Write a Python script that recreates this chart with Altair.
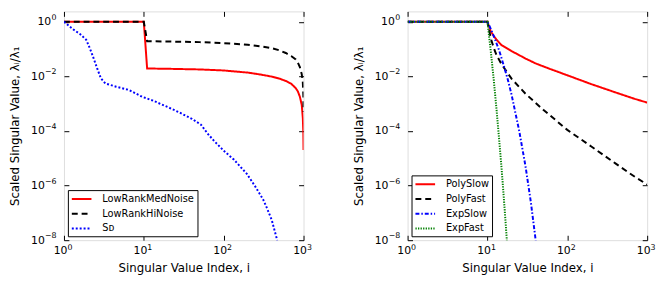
import altair as alt
import pandas as pd

# ---------------- data ----------------
# Left panel
lr_index = [1, 10, 11, 20, 50, 100, 200, 300, 400, 500, 600, 700, 800, 850, 900, 950, 980, 995, 1000]
med_noise = [1.0, 1.0, 0.0195, 0.019, 0.018, 0.0165, 0.0138, 0.0115, 0.0098, 0.0083, 0.0068,
             0.0054, 0.0037, 0.0028, 0.0018, 0.0009, 0.0003, 0.00008, 0.00002]
hi_noise = [1.0, 1.0, 0.195, 0.19, 0.18, 0.165, 0.145, 0.125, 0.108, 0.09, 0.072,
            0.056, 0.042, 0.032, 0.022, 0.012, 0.006, 0.002, 0.0005]
sd_index = [1, 1.3, 1.6, 1.9, 2.1, 2.3, 2.6, 2.9, 3.3, 4.5, 6.5, 9.5, 13, 20, 27, 40, 52,
            63, 75, 100, 134, 195, 250, 314, 345, 400, 460, 480]
sd_values = [1.0, 0.53, 0.35, 0.22, 0.11, 0.055, 0.02, 0.0085, 0.0055, 0.0042, 0.0032, 0.0018,
             0.0013, 0.00075, 0.0005, 0.00028, 0.00017, 0.00008, 0.000045, 0.000019, 0.000009,
             0.0000027, 0.0000009, 0.0000003, 0.00000016, 0.000000055, 0.000000012, 0.000000006]
left_names = ["LowRankMedNoise", "LowRankHiNoise", "Sᴅ"]

# Right panel
ps_index = [1, 10, 11, 12, 13, 15, 20, 30, 40, 60, 100, 200, 400, 700, 1000]
poly_slow = [1.0, 1.0, 0.45, 0.3, 0.22, 0.14, 0.085, 0.045, 0.03, 0.019, 0.011, 0.0052, 0.0026, 0.0015, 0.0011]
pf_index = [1, 10, 11, 12, 13, 15, 20, 30, 50, 100, 200, 400, 700, 1000]
poly_fast = [1.0, 1.0, 0.25, 0.11, 0.06, 0.028, 0.0083, 0.0023, 0.0006, 0.00011, 0.000027,
             0.0000065, 0.0000021, 0.0000011]
es_index = [1, 10, 11, 12, 14, 16, 18, 20, 25, 30, 35, 40, 42]
exp_slow = [1.0, 1.0, 0.55, 0.3, 0.09, 0.025, 0.0076, 0.0022, 0.0001, 0.000005, 0.00000024,
            0.000000011, 0.000000003]
ef_index = [1, 10, 11, 12, 13, 14, 15, 16, 17, 18]
exp_fast = [1.0, 1.0, 0.085, 0.0073, 0.0006, 0.00005, 0.0000045, 0.00000038, 0.000000033, 0.000000003]
right_names = ["PolySlow", "PolyFast", "ExpSlow", "ExpFast"]

# axis ticks and their labels (base 10, exponent as superscript)
x_ticks = [1, 10, 100, 1000]
x_exponents = ["0", "1", "2", "3"]
y_ticks = [1e-8, 1e-6, 1e-4, 1e-2, 1]
y_exponents = ["−8", "−6", "−4", "−2", "0"]


def frame(names, xs_list, ys_list):
    rows = []
    for n, xs, ys in zip(names, xs_list, ys_list):
        for a, b in zip(xs, ys):
            rows.append({"i": a, "v": b, "s": n})
    return pd.DataFrame(rows)


left_df = frame(left_names, [lr_index, lr_index, sd_index], [med_noise, hi_noise, sd_values])
right_df = frame(right_names, [ps_index, pf_index, es_index, ef_index],
                 [poly_slow, poly_fast, exp_slow, exp_fast])

FONT = "DejaVu Sans"
W, H = 244, 233
XDOM = [1, 1000]
YDOM = [1e-8, 2.4]


def exp_expr(ticks, exps):
    parts = []
    for t, e in zip(ticks, exps):
        parts.append(f"abs(log(datum.value) - log({t})) < 0.1 ? '{e}' : ")
    return "".join(parts) + "''"


COMMON = dict(offset=-5, tickSize=5, tickColor="black", tickWidth=1, domain=False, grid=False,
              labelFont=FONT, labelColor="black", labelFlush=False, labelOverlap=False,
              labelBound=False, minExtent=0)

# base "10" sits left of its exponent: wider gap for the two-glyph exponents
Y_BASE_PAD = {"condition": {"test": "datum.value > 0.1", "value": 13.5}, "value": 20}


def panel(df, names, colors, dashes, widths):
    xs = alt.Scale(type="log", domain=XDOM, nice=False)
    ys = alt.Scale(type="log", domain=YDOM, nice=False)
    legend = alt.Legend(
        title=None, orient="bottom-left", offset=4, symbolType="M-1,0H3", symbolSize=100,
        symbolStrokeWidth=2, labelFont=FONT, labelFontSize=10, labelColor="black",
        labelOffset=20, strokeColor="black", fillColor="white", padding=3,
        rowPadding=4, cornerRadius=0, labelLimit=300,
    )
    lines = alt.Chart(df).mark_line(clip=True).encode(
        x=alt.X("i:Q", scale=xs, axis=alt.Axis(
            orient="bottom", values=x_ticks, labelExpr="'10'", labelPadding=5, labelFontSize=11,
            labelAlign="center", labelOffset=-4,
            title="Singular Value Index, i", titleFont=FONT, titleFontSize=12,
            titleFontWeight="normal", titleColor="black", titlePadding=7, **COMMON)),
        y=alt.Y("v:Q", scale=ys, axis=alt.Axis(
            orient="left", values=y_ticks, labelExpr="'10'", labelPadding=Y_BASE_PAD,
            labelFontSize=11, labelAlign="right",
            title="Scaled Singular Value, λᵢ/λ₁", titleFont=FONT,
            titleFontSize=12, titleFontWeight="normal", titleColor="black", titlePadding=9,
            **COMMON)),
        color=alt.Color("s:N", scale=alt.Scale(domain=names, range=colors), legend=legend,
                        sort=names),
        strokeDash=alt.StrokeDash("s:N", scale=alt.Scale(domain=names, range=dashes), legend=legend,
                                  sort=names),
        strokeWidth=alt.StrokeWidth("s:N", scale=alt.Scale(domain=names, range=widths), legend=None),
    )
    expo = alt.Chart(df).mark_line(strokeOpacity=0, clip=True).encode(
        x=alt.X("i:Q", scale=xs, axis=alt.Axis(
            orient="bottom", values=x_ticks, labelExpr=exp_expr(x_ticks, x_exponents), labelPadding=3,
            labelFontSize=8, labelAlign="left", labelOffset=3, tickOpacity=0, title=None,
            **COMMON)),
        y=alt.Y("v:Q", scale=ys, axis=alt.Axis(
            orient="left", values=y_ticks, labelExpr=exp_expr(y_ticks, y_exponents), labelPadding=8,
            labelFontSize=8, labelAlign="right", labelOffset=-4.5, tickOpacity=0, title=None,
            **COMMON)),
    )
    ticks = alt.Chart(df).mark_line(strokeOpacity=0, clip=True).encode(
        x=alt.X("i:Q", scale=xs, axis=alt.Axis(
            orient="top", values=x_ticks, offset=-5, tickSize=5, tickColor="black", labels=False,
            domain=False, grid=False, title=None, minExtent=0)),
        y=alt.Y("v:Q", scale=ys, axis=alt.Axis(
            orient="right", values=y_ticks, offset=-5, tickSize=5, tickColor="black", labels=False,
            domain=False, grid=False, title=None, minExtent=0)),
    )
    return alt.layer(lines, expo, ticks).resolve_axis(x="independent", y="independent").properties(
        width=W, height=H)


left = panel(left_df, left_names, ["#ff0000", "#000000", "#0000ff"],
             [[1, 0], [6, 4], [2, 2]], [2, 2, 2])
right = panel(right_df, right_names, ["#ff0000", "#000000", "#0000ff", "#008000"],
              [[1, 0], [6, 4], [4, 2, 1.5, 2], [1.3, 1.3]], [2, 2, 2, 1.5])

chart = alt.hconcat(left, right, spacing=40).resolve_scale(
    color="independent", strokeDash="independent", strokeWidth="independent"
).properties(
    padding={"left": 0, "top": 0, "right": 0, "bottom": 0}
).configure_view(stroke="black", strokeWidth=1).configure(background="white")

chart.save("out.html", embed_options={"renderer": "svg", "actions": False})
